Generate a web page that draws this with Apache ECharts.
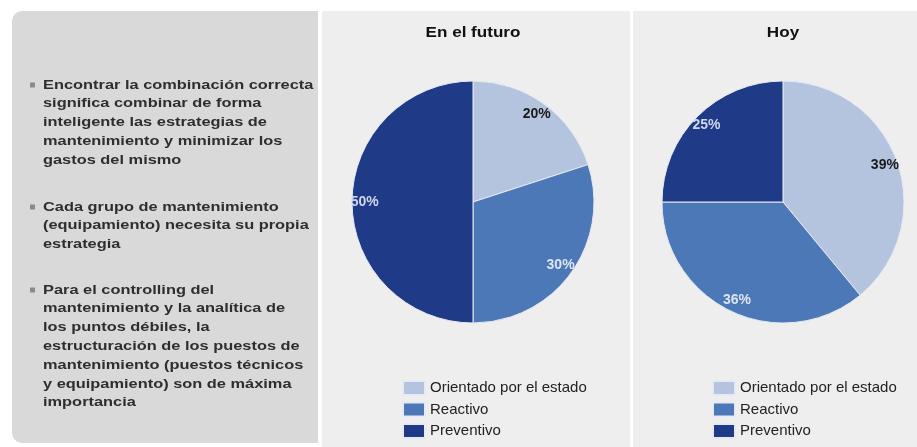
<!DOCTYPE html>
<html>
<head>
<meta charset="utf-8">
<script src="https://cdn.jsdelivr.net/npm/echarts@6/dist/echarts.min.js"></script>
<style>html,body{margin:0;padding:0;background:#fff}#c{width:917px;height:447px}</style>
</head>
<body>
<div id="c"></div>
<script>
const categories = ['Orientado por el estado', 'Reactivo', 'Preventivo'];
const futureValues = [20, 30, 50];
const todayValues = [39, 36, 25];
const chartTitles = ['En el futuro', 'Hoy'];
const sliceColors = ['#b5c4de', '#4c78b8', '#1f3a87'];
const labelColors = ['#1a1a1a', '#dde4f1', '#d0d6ec'];

const bulletParagraphs = [
  ['Encontrar la combinación correcta', 'significa combinar de forma', 'inteligente las estrategias de', 'mantenimiento y minimizar los', 'gastos del mismo'],
  ['Cada grupo de mantenimiento', '(equipamiento) necesita su propia', 'estrategia'],
  ['Para el controlling del', 'mantenimiento y la analítica de', 'los puntos débiles, la', 'estructuración de los puestos de', 'mantenimiento (puestos técnicos', 'y equipamiento) son de máxima', 'importancia']
];

const FONT = '"Liberation Sans", Arial, sans-serif';
const paraTops = [85, 207, 290];
const lineH = 18.8;
const centers = [[473, 202], [783, 202]];
const R = 121;

const graphics = [
  {type:'rect', shape:{x:12, y:11, width:306, height:432, r:[10,0,0,10]}, style:{fill:'#d9d9d9'}, z:-10},
  {type:'rect', shape:{x:322, y:11, width:308, height:436}, style:{fill:'#eeeeee'}, z:-10},
  {type:'rect', shape:{x:633, y:11, width:284, height:436}, style:{fill:'#eeeeee'}, z:-10}
];
bulletParagraphs.forEach((lines, p) => {
  graphics.push({type:'rect', shape:{x:30, y:paraTops[p]-2.5, width:5, height:5}, style:{fill:'#8a8a8a'}});
  lines.forEach((ln, i) => {
    graphics.push({type:'text', x:43, y:paraTops[p] + i*lineH, scaleX:1.26,
      style:{text:ln, font:'bold 13px ' + FONT, fill:'#2e2e2e', textVerticalAlign:'middle'}});
  });
});
chartTitles.forEach((t, k) => {
  graphics.push({type:'text', x:centers[k][0], y:33, scaleX:1.22,
    style:{text:t, font:'bold 14px ' + FONT, fill:'#111', textAlign:'center', textVerticalAlign:'middle'}});
});

function makeData(values) {
  return categories.map((name, i) => ({name, value: values[i], itemStyle:{color: sliceColors[i]}}));
}
function labelData(values) {
  return categories.map((name, i) => ({name, value: values[i], label:{color: labelColors[i]}}));
}

const valueSets = [futureValues, todayValues];
const series = [];
valueSets.forEach((vals, k) => {
  series.push({
    type:'pie', center:centers[k], radius:R, startAngle:90, clockwise:true,
    data: makeData(vals), label:{show:false}, labelLine:{show:false},
    itemStyle:{borderColor:'#e6eaf2', borderWidth:1},
    emphasis:{disabled:true}, silent:true, animation:false
  });
});
valueSets.forEach((vals, k) => {
  series.push({
    type:'pie', center:centers[k], radius:[R*0.74, R], startAngle:90, clockwise:true,
    data: labelData(vals), legendHoverLink:false,
    itemStyle:{color:'rgba(0,0,0,0)'},
    label:{show:true, position:'inside', formatter:'{c}%', fontFamily:FONT, fontSize:14, fontWeight:'bold'},
    labelLine:{show:false}, emphasis:{disabled:true}, silent:true, animation:false
  });
});

const chart = echarts.init(document.getElementById('c'));
chart.setOption({
  animation:false,
  legend: [402, 712].map(x => ({
    data: categories, left:x, top:380, height:70, orient:'vertical', icon:'rect', padding:0,
    itemWidth:22, itemHeight:14, itemGap:5.5, selectedMode:false,
    textStyle:{fontFamily:FONT, fontSize:15, color:'#222', lineHeight:14}
  })),
  graphic: graphics,
  series
});
</script>
</body>
</html>
